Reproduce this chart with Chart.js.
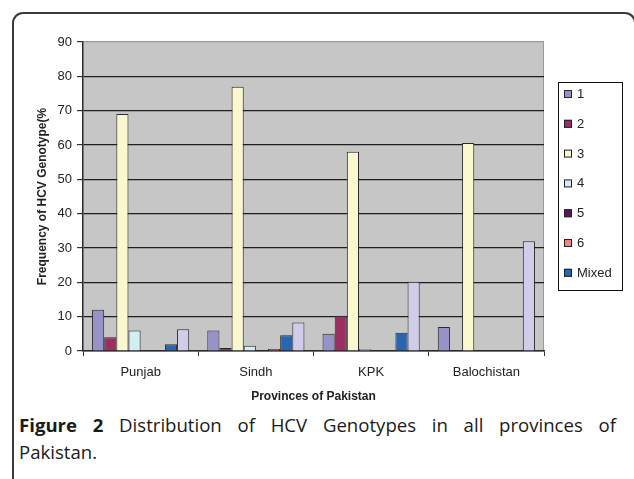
<!DOCTYPE html>
<html>
<head>
<meta charset="utf-8">
<script src="https://cdn.jsdelivr.net/npm/chart.js@4.4.0/dist/chart.umd.min.js"></script>
<style>
  html, body { margin: 0; padding: 0; background: #fff; width: 634px; height: 479px; overflow: hidden; }
  #frame { position: absolute; left: 12px; top: 12px; width: 624px; height: 500px; pointer-events: none;
           border-top: 2px solid #3a3a3a; border-left: 2px solid #3a3a3a; border-right: 2px solid #3a3a3a;
           border-radius: 11px 11px 0 0; box-sizing: border-box; z-index: 5; }
  #wrap { position: absolute; left: 0; top: 0; width: 634px; height: 410px; }
  #caption { position: absolute; left: 19px; top: 411px; width: 597px;
             font-family: "Open Sans", "Noto Sans", sans-serif; font-size: 18.6px; line-height: 27px; color: #1a1a1a; }
  #caption .l1 { text-align: justify; text-align-last: justify; white-space: nowrap; }
  #caption b { font-weight: 700; }
</style>
</head>
<body>
<div id="wrap"><canvas id="c"></canvas></div>
<div id="caption">
  <div class="l1"><b>Figure 2</b> Distribution of HCV Genotypes in all provinces of</div>
  <div>Pakistan.</div>
</div>
<div id="frame"></div>
<script>
const categories = ["Punjab", "Sindh", "KPK", "Balochistan"];
const seriesNames = ["1", "2", "3", "4", "5", "6", "Mixed", "Untypable"];
const g1 = [12, 6, 5, 7];
const g2 = [4, 0.9, 10.3, 0];
const g3 = [69, 77, 58, 60.6];
const g4 = [6, 1.5, 0.5, 0];
const g5 = [0, 0.3, 0, 0];
const g6 = [0, 0.6, 0, 0];
const gMixed = [2, 4.6, 5.3, 0];
const gUntyped = [6.3, 8.3, 20.2, 32];
const yTicks = [0, 10, 20, 30, 40, 50, 60, 70, 80, 90];

const colors = ["#9593c8", "#9b2f62", "#fbf8cf", "#d2eef4", "#5c1660", "#f28381", "#2865b2", "#d0cdea"];
const values = [g1, g2, g3, g4, g5, g6, gMixed, gUntyped];
const legendCount = 7;

const datasets = values.map((v, i) => ({
  label: seriesNames[i],
  data: v,
  backgroundColor: colors[i],
  borderColor: "#2a2a2a",
  borderWidth: 1,
  borderSkipped: "bottom",
  categoryPercentage: 0.843,
  barPercentage: 1.0
}));

const bgPlugin = {
  id: "plotBg",
  beforeDraw(chart) {
    const { ctx, chartArea: a } = chart;
    ctx.save();
    ctx.fillStyle = "#c6c6c6";
    ctx.fillRect(a.left, a.top, a.right - a.left, a.bottom - a.top);
    ctx.strokeStyle = "#9a9a9a";
    ctx.lineWidth = 1;
    ctx.beginPath();
    ctx.moveTo(a.right - 0.5, a.top);
    ctx.lineTo(a.right - 0.5, a.bottom);
    ctx.stroke();
    ctx.restore();
  }
};

const legendPlugin = {
  id: "boxLegend",
  afterDraw(chart) {
    const { ctx } = chart;
    const x0 = 558, y0 = 82, w = 64, h = 208;
    ctx.save();
    ctx.strokeStyle = "#111";
    ctx.lineWidth = 1;
    ctx.strokeRect(x0 + 0.5, y0 + 0.5, w, h);
    ctx.font = "13px 'Liberation Sans', Arial, sans-serif";
    ctx.textBaseline = "middle";
    for (let i = 0; i < legendCount; i++) {
      const ds = chart.data.datasets[i];
      const cy = 94 + i * 29.8;
      ctx.fillStyle = ds.backgroundColor;
      ctx.fillRect(564, cy - 4, 8, 8);
      ctx.strokeStyle = "#222";
      ctx.strokeRect(564.5, cy - 3.5, 7, 7);
      ctx.fillStyle = "#222";
      ctx.fillText(ds.label, 577, cy + 0.5);
    }
    ctx.restore();
  }
};

new Chart(document.getElementById("c"), {
  type: "bar",
  data: { labels: categories, datasets },
  options: {
    responsive: true,
    maintainAspectRatio: false,
    animation: false,
    layout: { padding: { left: 13, top: 42, right: 90, bottom: 1 } },
    plugins: { legend: { display: false }, tooltip: { enabled: false } },
    scales: {
      x: {
        afterFit(s) { s.height = 58; },
        grid: { drawOnChartArea: false, drawTicks: true, tickLength: 5, tickColor: "#333", offset: true },
        border: { color: "#2a2a2a", width: 1.5 },
        ticks: { color: "#222", font: { family: "'Liberation Sans', Arial, sans-serif", size: 13 }, padding: 9 },
        title: { display: true, text: "Provinces of Pakistan", color: "#222",
                 font: { family: "'Liberation Sans', Arial, sans-serif", size: 12, weight: "bold" },
                 padding: { top: 0, bottom: 5 } }
      },
      y: {
        min: 0, max: 90,
        afterFit(s) { s.width = 70; },
        afterBuildTicks(s) { s.ticks = yTicks.map(v => ({ value: v })); },
        grid: {
          color: (c) => (c.tick && c.tick.value === 90) ? "#9a9a9a" : "#1e1e1e",
          lineWidth: 1.2,
          tickLength: 6, tickColor: "#333"
        },
        border: { color: "#2a2a2a", width: 1.5 },
        ticks: { stepSize: 10, color: "#222", padding: 5, font: { family: "'Liberation Sans', Arial, sans-serif", size: 13 } },
        title: { display: true, text: "Frequency of HCV Genotype(%", color: "#222",
                 font: { family: "'Liberation Sans', Arial, sans-serif", size: 12, weight: "bold" },
                 padding: { top: 22, bottom: 0 } }
      }
    }
  },
  plugins: [bgPlugin, legendPlugin]
});
</script>
</body>
</html>
